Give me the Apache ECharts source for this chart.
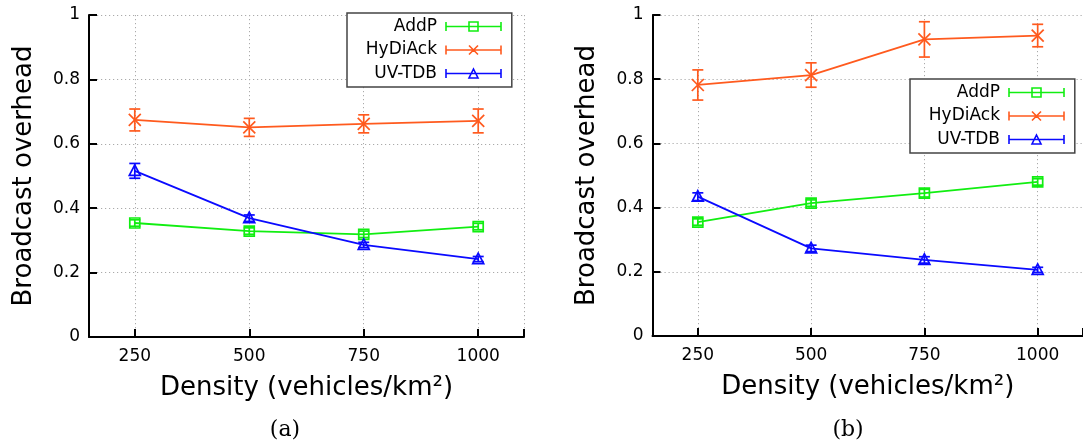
<!DOCTYPE html>
<html>
<head>
<meta charset="utf-8">
<script src="https://cdn.jsdelivr.net/npm/echarts@6/dist/echarts.min.js"></script>
<style>
  html, body { margin: 0; padding: 0; background: #fff; }
  #chart { width: 1083px; height: 446px; }
</style>
</head>
<body>
<div id="chart"></div>
<script>
// ---------- data ----------
const densities = [250, 500, 750, 1000];
const xTickLabels = [250, 500, 750, 1000];
const xTickMarks = [250, 500, 750, 1000, 1100];

// (a)
const aAddP = [0.354, 0.329, 0.319, 0.343];
const aAddPErr = [0.010, 0.010, 0.010, 0.010];
const aHyDiAck = [0.674, 0.651, 0.662, 0.671];
const aHyDiAckErr = [0.034, 0.028, 0.028, 0.037];
const aUVTDB = [0.516, 0.369, 0.286, 0.242];
const aUVTDBErr = [0.023, 0.010, 0.008, 0.008];

// (b)
const bAddP = [0.355, 0.414, 0.445, 0.480];
const bAddPErr = [0.010, 0.010, 0.012, 0.010];
const bHyDiAck = [0.782, 0.813, 0.924, 0.936];
const bHyDiAckErr = [0.047, 0.038, 0.055, 0.035];
const bUVTDB = [0.434, 0.273, 0.237, 0.206];
const bUVTDBErr = [0.012, 0.010, 0.010, 0.008];

const seriesNames = ['AddP', 'HyDiAck', 'UV-TDB'];
// ---------- style ----------
const COLORS = { 'AddP': '#11ee11', 'HyDiAck': '#ff5a1e', 'UV-TDB': '#0a0aff' };
const MARKERS = { 'AddP': 'square', 'HyDiAck': 'cross', 'UV-TDB': 'triangle' };
const ICONS = {
  'AddP': 'path://M0,4.5L55,4.5M0,0L0,9M55,0L55,9M23,0L32,0L32,9L23,9Z',
  'HyDiAck': 'path://M0,4.5L55,4.5M0,0L0,9M55,0L55,9M23,0L32,9M32,0L23,9',
  'UV-TDB': 'path://M0,4.5L55,4.5M0,0L0,9M55,0L55,9M27.5,0L32,9L23,9Z'
};
const FONT = 'DejaVu Sans';

function zip3(xs, ys, es) { return xs.map((x, i) => [x, ys[i], es[i]]); }
function zip2(xs, ys) { return xs.map((x, i) => [x, ys[i]]); }

function makeRender(name) {
  const color = COLORS[name];
  const marker = MARKERS[name];
  return function (params, api) {
    const x = api.value(0), y = api.value(1), e = api.value(2);
    const p = api.coord([x, y]);
    const lo = api.coord([x, y - e]);
    const hi = api.coord([x, y + e]);
    const cw = 5.5;
    const st = { stroke: color, lineWidth: 1.7, fill: 'none' };
    const ch = [
      { type: 'line', shape: { x1: p[0], y1: lo[1], x2: p[0], y2: hi[1] }, style: st },
      { type: 'line', shape: { x1: p[0] - cw, y1: lo[1], x2: p[0] + cw, y2: lo[1] }, style: st },
      { type: 'line', shape: { x1: p[0] - cw, y1: hi[1], x2: p[0] + cw, y2: hi[1] }, style: st }
    ];
    if (marker === 'square') {
      ch.push({ type: 'rect', shape: { x: p[0] - 5, y: p[1] - 5, width: 10, height: 10 }, style: st });
    } else if (marker === 'cross') {
      ch.push({ type: 'line', shape: { x1: p[0] - 6, y1: p[1] - 6, x2: p[0] + 6, y2: p[1] + 6 }, style: st });
      ch.push({ type: 'line', shape: { x1: p[0] - 6, y1: p[1] + 6, x2: p[0] + 6, y2: p[1] - 6 }, style: st });
    } else {
      ch.push({ type: 'polygon', shape: { points: [[p[0], p[1] - 6], [p[0] + 5.5, p[1] + 4.5], [p[0] - 5.5, p[1] + 4.5]] }, style: st });
    }
    return { type: 'group', children: ch };
  };
}

function panelSeries(idx, sets) {
  const out = [];
  sets.forEach(([name, vals, errs]) => {
    out.push({
      type: 'line', name: name, xAxisIndex: idx, yAxisIndex: idx,
      data: zip2(densities, vals), symbol: 'none',
      lineStyle: { color: COLORS[name], width: 1.8 },
      itemStyle: { color: COLORS[name] },
      animation: false, z: 2
    });
    out.push({
      type: 'custom', name: name, xAxisIndex: idx, yAxisIndex: idx,
      data: zip3(densities, vals, errs), encode: { x: 0, y: 1 },
      renderItem: makeRender(name), animation: false, z: 3
    });
  });
  return out;
}

function xAxis(gridIndex) {
  return {
    type: 'value', gridIndex: gridIndex, min: 150, max: 1100,
    name: 'Density (vehicles/km²)', nameLocation: 'middle', nameGap: 38,
    nameTextStyle: { fontFamily: FONT, fontSize: 26, color: '#000' },
    axisLine: { show: true, lineStyle: { color: '#000', width: 2 } },
    axisTick: { show: true, inside: true, length: 8, customValues: xTickMarks, lineStyle: { color: '#000', width: 2 } },
    axisLabel: { customValues: xTickLabels, margin: 11, fontFamily: FONT, fontSize: 17, color: '#000', formatter: v => String(v) },
    splitLine: { show: true, lineStyle: { color: '#aaaaaa', type: [1.2, 2.8], width: 1 } }
  };
}
function yAxis(gridIndex) {
  return {
    type: 'value', gridIndex: gridIndex, min: 0, max: 1, interval: 0.2,
    name: 'Broadcast overhead', nameLocation: 'middle', nameGap: 52, nameRotate: 90,
    nameTextStyle: { fontFamily: FONT, fontSize: 26, color: '#000' },
    axisLine: { show: true, lineStyle: { color: '#000', width: 2 } },
    axisTick: { show: true, inside: true, length: 8, lineStyle: { color: '#000', width: 2 } },
    axisLabel: { margin: 9, fontFamily: FONT, fontSize: 17, color: '#000', formatter: v => String(Math.round(v * 10) / 10) },
    splitLine: { show: true, lineStyle: { color: '#aaaaaa', type: [1.2, 2.8], width: 1 } }
  };
}
function legend(left, top) {
  return {
    orient: 'vertical', left: left, top: top, align: 'right',
    backgroundColor: '#fff', borderColor: '#444', borderWidth: 1.5,
    padding: [3.5, 10, 3.5, 5], itemGap: 3.5, itemWidth: 55, itemHeight: 9,
    textStyle: { fontFamily: FONT, fontSize: 17, color: '#000', width: 85, lineHeight: 20, align: 'right', padding: [0, 4, 0, 0] },
    selectedMode: false,
    data: seriesNames.map(n => ({
      name: n, icon: ICONS[n],
      itemStyle: { color: 'rgba(0,0,0,0)', borderColor: COLORS[n], borderWidth: 1.6 }
    }))
  };
}

const chart = echarts.init(document.getElementById('chart'), null, { renderer: 'canvas' });
chart.setOption({
  animation: false,
  backgroundColor: '#fff',
  grid: [
    { left: 89, top: 15, width: 435, height: 322 },
    { left: 652.5, top: 15, width: 435, height: 321 }
  ],
  xAxis: [xAxis(0), xAxis(1)],
  yAxis: [yAxis(0), yAxis(1)],
  legend: [legend(347, 13), legend(910, 79)],
  graphic: [
    { type: 'text', x: 285, y: 430, style: { text: '(a)', align: 'center', verticalAlign: 'middle', fontFamily: 'DejaVu Serif', fontSize: 22, fill: '#000' } },
    { type: 'text', x: 848, y: 430, style: { text: '(b)', align: 'center', verticalAlign: 'middle', fontFamily: 'DejaVu Serif', fontSize: 22, fill: '#000' } }
  ],
  series: panelSeries(0, [
    ['AddP', aAddP, aAddPErr], ['HyDiAck', aHyDiAck, aHyDiAckErr], ['UV-TDB', aUVTDB, aUVTDBErr]
  ]).concat(panelSeries(1, [
    ['AddP', bAddP, bAddPErr], ['HyDiAck', bHyDiAck, bHyDiAckErr], ['UV-TDB', bUVTDB, bUVTDBErr]
  ]))
});
</script>
</body>
</html>
